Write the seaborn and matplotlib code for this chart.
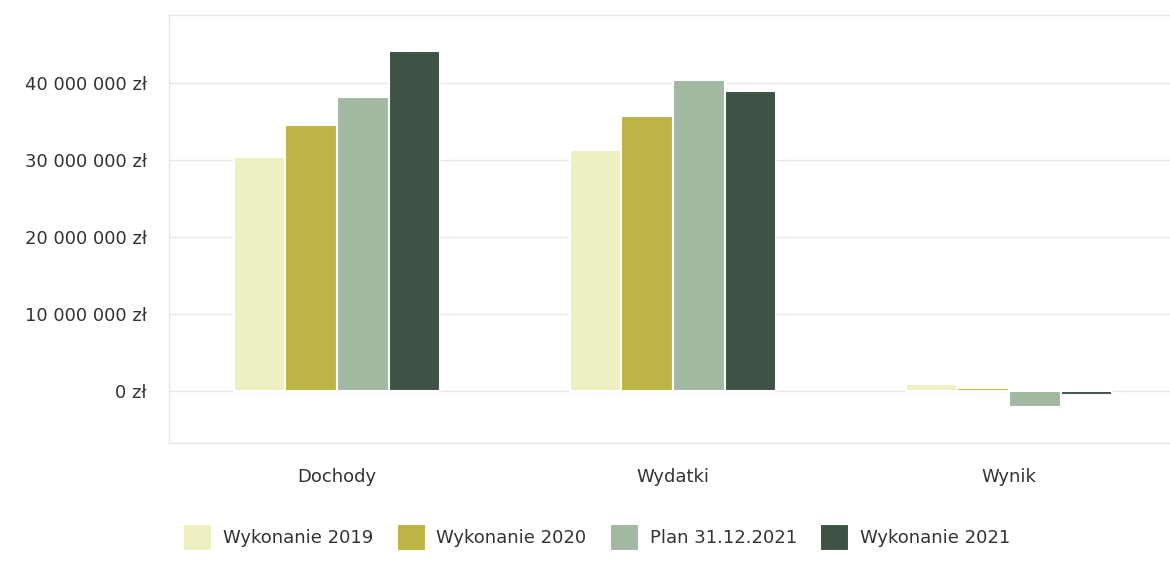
import pandas as pd
import seaborn as sns
import matplotlib.pyplot as plt
from matplotlib.ticker import FuncFormatter

categories = ['Dochody', 'Wydatki', 'Wynik']
series = ['Wykonanie 2019', 'Wykonanie 2020', 'Plan 31.12.2021', 'Wykonanie 2021']
wyk_2019 = [30300000, 31300000, 850000]
wyk_2020 = [34500000, 35700000, 400000]
plan_2021 = [38200000, 40400000, -2100000]
wyk_2021 = [44100000, 38900000, -550000]
colors = ['#eef0c2', '#bdb446', '#a3b8a1', '#3e5246']

rows = []
for name, vals in zip(series, [wyk_2019, wyk_2020, plan_2021, wyk_2021]):
    for c, v in zip(categories, vals):
        rows.append({'kategoria': c, 'seria': name, 'wartosc': v})
data = pd.DataFrame(rows)

sns.set_theme(style="white")
plt.rcParams['font.family'] = ['DejaVu Sans']

fig = plt.figure(figsize=(11.7, 5.66), dpi=100)
ax = fig.add_axes([0.1444, 0.2173, 0.8615, 0.756])
sns.barplot(data=data, x='kategoria', y='wartosc', hue='seria', hue_order=series,
            palette=colors, saturation=1, width=0.615, edgecolor='white', linewidth=1.5,
            errorbar=None, ax=ax, zorder=3)

ax.set_ylim(-6.8e6, 48.8e6)
ax.set_yticks([0, 10e6, 20e6, 30e6, 40e6])
ax.yaxis.set_major_formatter(FuncFormatter(lambda v, p: '{:,.0f} zł'.format(v).replace(',', ' ')))
ax.grid(axis='y', color='#e8e8e8', linewidth=1, zorder=0)
ax.set_axisbelow(True)
for s in ax.spines.values():
    s.set_color('#e6e6e6')
    s.set_linewidth(1)
ax.set_xlabel(None)
ax.set_ylabel(None)
ax.tick_params(axis='y', labelsize=13, colors='#333333', pad=16, length=0)
ax.tick_params(axis='x', labelsize=13, colors='#333333', pad=18, length=0)

handles, labels = ax.get_legend_handles_labels()
ax.get_legend().remove()
fig.legend(handles, labels, loc='center', bbox_to_anchor=(0.51, 0.05), ncol=4,
           frameon=False, fontsize=13, handlelength=1.6, handleheight=1.9,
           columnspacing=1.3, handletextpad=0.6, labelcolor='#333333')

fig.savefig('out.png', dpi=100)
